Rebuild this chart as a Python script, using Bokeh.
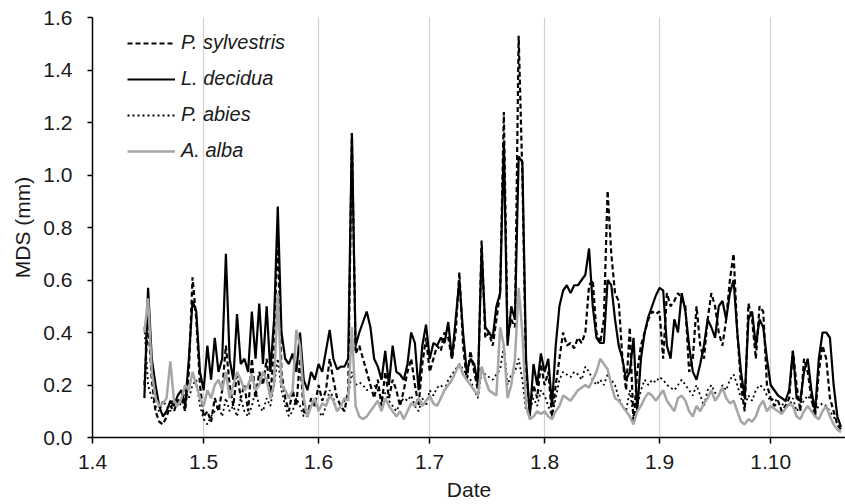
from bokeh.plotting import figure
from bokeh.models import FixedTicker, Legend, LegendItem, PrintfTickFormatter, ColumnDataSource
from bokeh.embed import file_html
from bokeh.resources import INLINE

# day index: 0 = 1 April
start_day = 14
month_ticks = [0, 30, 61, 91, 122, 153, 183]
month_labels = ["1.4", "1.5", "1.6", "1.7", "1.8", "1.9", "1.10"]

p_sylvestris = [
    0.20, 0.45, 0.22, 0.10, 0.06, 0.05, 0.08, 0.12, 0.10, 0.14,
    0.15, 0.10, 0.25, 0.61, 0.45, 0.20, 0.08, 0.10, 0.06, 0.15,
    0.10, 0.18, 0.35, 0.20, 0.12, 0.25, 0.15, 0.20, 0.10, 0.30,
    0.15, 0.25, 0.20, 0.30, 0.15, 0.35, 0.78, 0.25, 0.15, 0.10,
    0.18, 0.12, 0.30, 0.10, 0.08, 0.15, 0.12, 0.20, 0.14, 0.18,
    0.30, 0.22, 0.15, 0.12, 0.10, 0.18, 1.16, 0.32, 0.35, 0.30,
    0.25, 0.20, 0.15, 0.22, 0.12, 0.25, 0.15, 0.22, 0.18, 0.12,
    0.18, 0.25, 0.30, 0.20, 0.12, 0.28, 0.38, 0.25, 0.30, 0.35,
    0.33, 0.40, 0.38, 0.30, 0.40, 0.63, 0.35, 0.22, 0.33, 0.25,
    0.18, 0.75, 0.38, 0.40, 0.35, 0.45, 0.55, 1.24, 0.38, 0.45,
    0.42, 1.53, 1.00, 0.25, 0.10, 0.20, 0.15, 0.28, 0.20, 0.25,
    0.08, 0.20, 0.30, 0.40, 0.35, 0.36, 0.34, 0.38, 0.36, 0.40,
    0.58, 0.60, 0.40, 0.36, 0.45, 0.94, 0.70, 0.55, 0.52, 0.30,
    0.18, 0.42, 0.05, 0.25, 0.35, 0.40, 0.45, 0.48, 0.47, 0.48,
    0.30, 0.55, 0.50, 0.52, 0.55, 0.53, 0.50, 0.25, 0.30, 0.50,
    0.35, 0.30, 0.45, 0.55, 0.50, 0.40, 0.35, 0.45, 0.60, 0.70,
    0.40, 0.20, 0.10, 0.51, 0.45, 0.30, 0.50, 0.48, 0.20, 0.15,
    0.12, 0.14, 0.10, 0.12, 0.15, 0.33, 0.20, 0.10, 0.30, 0.25,
    0.15, 0.08, 0.25, 0.35, 0.30, 0.15, 0.10, 0.05, 0.03,
]

l_decidua = [
    0.15, 0.57, 0.30, 0.20, 0.12, 0.08, 0.10, 0.14, 0.12, 0.16,
    0.18, 0.12, 0.30, 0.52, 0.48, 0.25, 0.18, 0.35, 0.22, 0.38,
    0.25, 0.30, 0.70, 0.30, 0.22, 0.47, 0.28, 0.30, 0.25, 0.48,
    0.30, 0.51, 0.28, 0.50, 0.25, 0.45, 0.88, 0.40, 0.30, 0.28,
    0.32, 0.25, 0.40, 0.22, 0.18, 0.25, 0.22, 0.28, 0.25, 0.33,
    0.41, 0.30, 0.26, 0.27, 0.27, 0.30, 1.16, 0.35, 0.40, 0.44,
    0.48, 0.42, 0.30, 0.27, 0.22, 0.33, 0.20, 0.35, 0.25, 0.24,
    0.22, 0.28, 0.40, 0.36, 0.18, 0.35, 0.43, 0.30, 0.36, 0.35,
    0.38, 0.36, 0.44, 0.30, 0.45, 0.60, 0.40, 0.25, 0.30, 0.28,
    0.20, 0.72, 0.42, 0.40, 0.38, 0.50, 0.55, 1.13, 0.35, 0.50,
    0.45, 1.07, 1.05, 0.30, 0.08, 0.28, 0.20, 0.32, 0.25, 0.30,
    0.12, 0.35, 0.50, 0.56, 0.58, 0.55, 0.58, 0.58, 0.60, 0.62,
    0.72, 0.50, 0.38, 0.36, 0.36, 0.60, 0.58, 0.45, 0.35, 0.30,
    0.22, 0.25, 0.38, 0.10, 0.30, 0.40, 0.46, 0.50, 0.54, 0.57,
    0.56, 0.35, 0.30, 0.45, 0.40, 0.55, 0.48, 0.35, 0.25, 0.22,
    0.28, 0.35, 0.45, 0.42, 0.38, 0.50, 0.52, 0.45, 0.55, 0.60,
    0.40, 0.25, 0.15, 0.45, 0.48, 0.35, 0.45, 0.42, 0.30, 0.20,
    0.18, 0.16, 0.15, 0.14, 0.18, 0.33, 0.15, 0.14, 0.25, 0.30,
    0.18, 0.10, 0.30, 0.40, 0.40, 0.38, 0.20, 0.08, 0.04,
]

p_abies = [
    0.42, 0.20, 0.15, 0.12, 0.10, 0.14, 0.12, 0.10, 0.15, 0.12,
    0.13, 0.18, 0.15, 0.20, 0.22, 0.12, 0.07, 0.05, 0.08, 0.10,
    0.12, 0.08, 0.15, 0.10, 0.12, 0.08, 0.15, 0.10, 0.08, 0.12,
    0.18, 0.12, 0.10, 0.15, 0.12, 0.20, 0.30, 0.18, 0.12, 0.08,
    0.10, 0.15, 0.12, 0.08, 0.10, 0.12, 0.15, 0.10, 0.08, 0.12,
    0.18, 0.15, 0.10, 0.12, 0.14, 0.16, 0.25, 0.20, 0.21, 0.20,
    0.18, 0.19, 0.20, 0.18, 0.15, 0.17, 0.14, 0.12, 0.10, 0.13,
    0.15, 0.14, 0.16, 0.12, 0.10, 0.15, 0.12, 0.18, 0.16, 0.19,
    0.20, 0.18, 0.22, 0.24, 0.26, 0.28, 0.26, 0.24, 0.22, 0.18,
    0.15, 0.25, 0.24, 0.23, 0.22, 0.24, 0.26, 0.35, 0.20, 0.24,
    0.25, 0.30, 0.22, 0.10, 0.10, 0.15, 0.12, 0.18, 0.16, 0.12,
    0.08, 0.15, 0.22, 0.25, 0.24, 0.23, 0.25, 0.24, 0.22, 0.27,
    0.25, 0.22, 0.20, 0.22, 0.20, 0.24, 0.22, 0.20, 0.15, 0.12,
    0.10, 0.18, 0.08, 0.12, 0.18, 0.22, 0.20, 0.22, 0.21, 0.23,
    0.22, 0.20, 0.19, 0.18, 0.20, 0.22, 0.20, 0.18, 0.16, 0.20,
    0.16, 0.12, 0.18, 0.20, 0.17, 0.16, 0.20, 0.18, 0.22, 0.24,
    0.20, 0.15, 0.12, 0.16, 0.14, 0.18, 0.20, 0.19, 0.16, 0.14,
    0.15, 0.13, 0.12, 0.14, 0.12, 0.15, 0.10, 0.12, 0.14, 0.16,
    0.14, 0.10, 0.12, 0.13, 0.12, 0.10, 0.08, 0.05, 0.03,
]

a_alba = [
    0.40, 0.53, 0.25, 0.15, 0.12, 0.13, 0.15, 0.29, 0.14, 0.12,
    0.15, 0.20, 0.18, 0.25, 0.20, 0.15, 0.12, 0.18, 0.15, 0.20,
    0.22, 0.18, 0.25, 0.15, 0.20, 0.25, 0.22, 0.18, 0.20, 0.24,
    0.18, 0.20, 0.25, 0.22, 0.15, 0.20, 0.55, 0.20, 0.18, 0.15,
    0.18, 0.41, 0.35, 0.15, 0.08, 0.12, 0.15, 0.10, 0.13, 0.12,
    0.16, 0.14, 0.10, 0.12, 0.15, 0.14, 0.42, 0.12, 0.08, 0.07,
    0.08, 0.10, 0.12, 0.14, 0.10, 0.15, 0.12, 0.10, 0.08, 0.10,
    0.07, 0.10, 0.13, 0.12, 0.15, 0.12, 0.14, 0.16, 0.13, 0.12,
    0.15, 0.18, 0.20, 0.22, 0.25, 0.28, 0.24, 0.22, 0.20, 0.18,
    0.16, 0.27, 0.22, 0.18, 0.17, 0.16, 0.42, 0.35, 0.15, 0.20,
    0.30, 0.57, 0.40, 0.12, 0.07, 0.08, 0.10, 0.09, 0.10, 0.08,
    0.07, 0.10, 0.12, 0.16, 0.15, 0.14, 0.16, 0.18, 0.19, 0.20,
    0.19, 0.22, 0.25, 0.30, 0.28, 0.26, 0.20, 0.15, 0.14, 0.12,
    0.10, 0.08, 0.05, 0.10, 0.12, 0.15, 0.17, 0.16, 0.14, 0.16,
    0.18, 0.14, 0.12, 0.10, 0.15, 0.16, 0.14, 0.10, 0.08, 0.12,
    0.10, 0.13, 0.15, 0.18, 0.14, 0.16, 0.19, 0.15, 0.13, 0.14,
    0.10, 0.06, 0.05, 0.07, 0.06, 0.08, 0.12, 0.14, 0.10, 0.12,
    0.11, 0.10, 0.09, 0.11, 0.13, 0.12, 0.08, 0.07, 0.10, 0.12,
    0.10, 0.08, 0.07, 0.10, 0.12, 0.08, 0.05, 0.03, 0.02,
]

n = len(l_decidua)
days = list(range(start_day, start_day + n))
src = ColumnDataSource(dict(day=days, ps=p_sylvestris[:n], ld=l_decidua[:n],
                            pa=p_abies[:n], aa=a_alba[:n]))

FONT = "Liberation Sans"

p = figure(width=845, height=504, output_backend="svg", toolbar_location=None,
           x_range=(0, 203.2), y_range=(0, 1.6),
           min_border_left=92, min_border_right=0, min_border_top=17, min_border_bottom=67)
p.outline_line_color = None
p.background_fill_color = "white"
p.border_fill_color = "white"

r1 = p.line("day", "ps", source=src, line_color="black", line_width=2.2, line_dash="5 3")
r2 = p.line("day", "ld", source=src, line_color="black", line_width=2.2)
r3 = p.line("day", "pa", source=src, line_color="black", line_width=1.8, line_dash="2 3")
r4 = p.line("day", "aa", source=src, line_color="#a6a6a6", line_width=2.5)

# axes
p.xaxis.ticker = FixedTicker(ticks=month_ticks)
p.xaxis.major_label_overrides = {t: l for t, l in zip(month_ticks, month_labels)}
p.xaxis.minor_tick_line_color = None
p.xaxis.major_tick_out = 6
p.xaxis.major_tick_in = 0
p.xaxis.axis_label = "Date"

p.yaxis.ticker = FixedTicker(ticks=[0, 0.2, 0.4, 0.6, 0.8, 1.0, 1.2, 1.4, 1.6])
p.yaxis.formatter = PrintfTickFormatter(format="%.1f")
p.yaxis.minor_tick_line_color = None
p.yaxis.major_tick_out = 5
p.yaxis.major_tick_in = 0
p.yaxis.axis_label = "MDS (mm)"

for ax in (p.xaxis[0], p.yaxis[0]):
    ax.axis_line_color = "black"
    ax.axis_line_width = 1.5
    ax.major_tick_line_color = "black"
    ax.major_tick_line_width = 1.5
    ax.major_label_text_font = FONT
    ax.major_label_text_font_size = "21px"
    ax.major_label_text_color = "#1a1a1a"
    ax.axis_label_text_font = FONT
    ax.axis_label_text_font_size = "21px"
    ax.axis_label_text_font_style = "normal"
    ax.axis_label_text_color = "#1a1a1a"

p.xaxis.major_label_standoff = 11
p.xaxis.axis_label_standoff = 6
p.yaxis.major_label_standoff = 15
p.yaxis.axis_label_standoff = 6

p.xgrid.ticker = FixedTicker(ticks=month_ticks[1:])
p.xgrid.grid_line_color = "#d0d0d0"
p.xgrid.grid_line_width = 1.2
p.ygrid.grid_line_color = None

legend = Legend(items=[
    LegendItem(label="P. sylvestris", renderers=[r1]),
    LegendItem(label="L. decidua", renderers=[r2]),
    LegendItem(label="P. abies", renderers=[r3]),
    LegendItem(label="A. alba", renderers=[r4]),
], location=(35, 275))
legend.border_line_color = None
legend.background_fill_alpha = 0
legend.label_text_font = FONT
legend.label_text_font_style = "italic"
legend.label_text_font_size = "20px"
legend.label_text_color = "#1a1a1a"
legend.glyph_width = 48
legend.glyph_height = 20
legend.label_height = 20
legend.label_standoff = 6
legend.spacing = 13
legend.padding = 0
legend.margin = 0
p.add_layout(legend, "center")

open("out.html", "w").write(file_html(p, INLINE))
